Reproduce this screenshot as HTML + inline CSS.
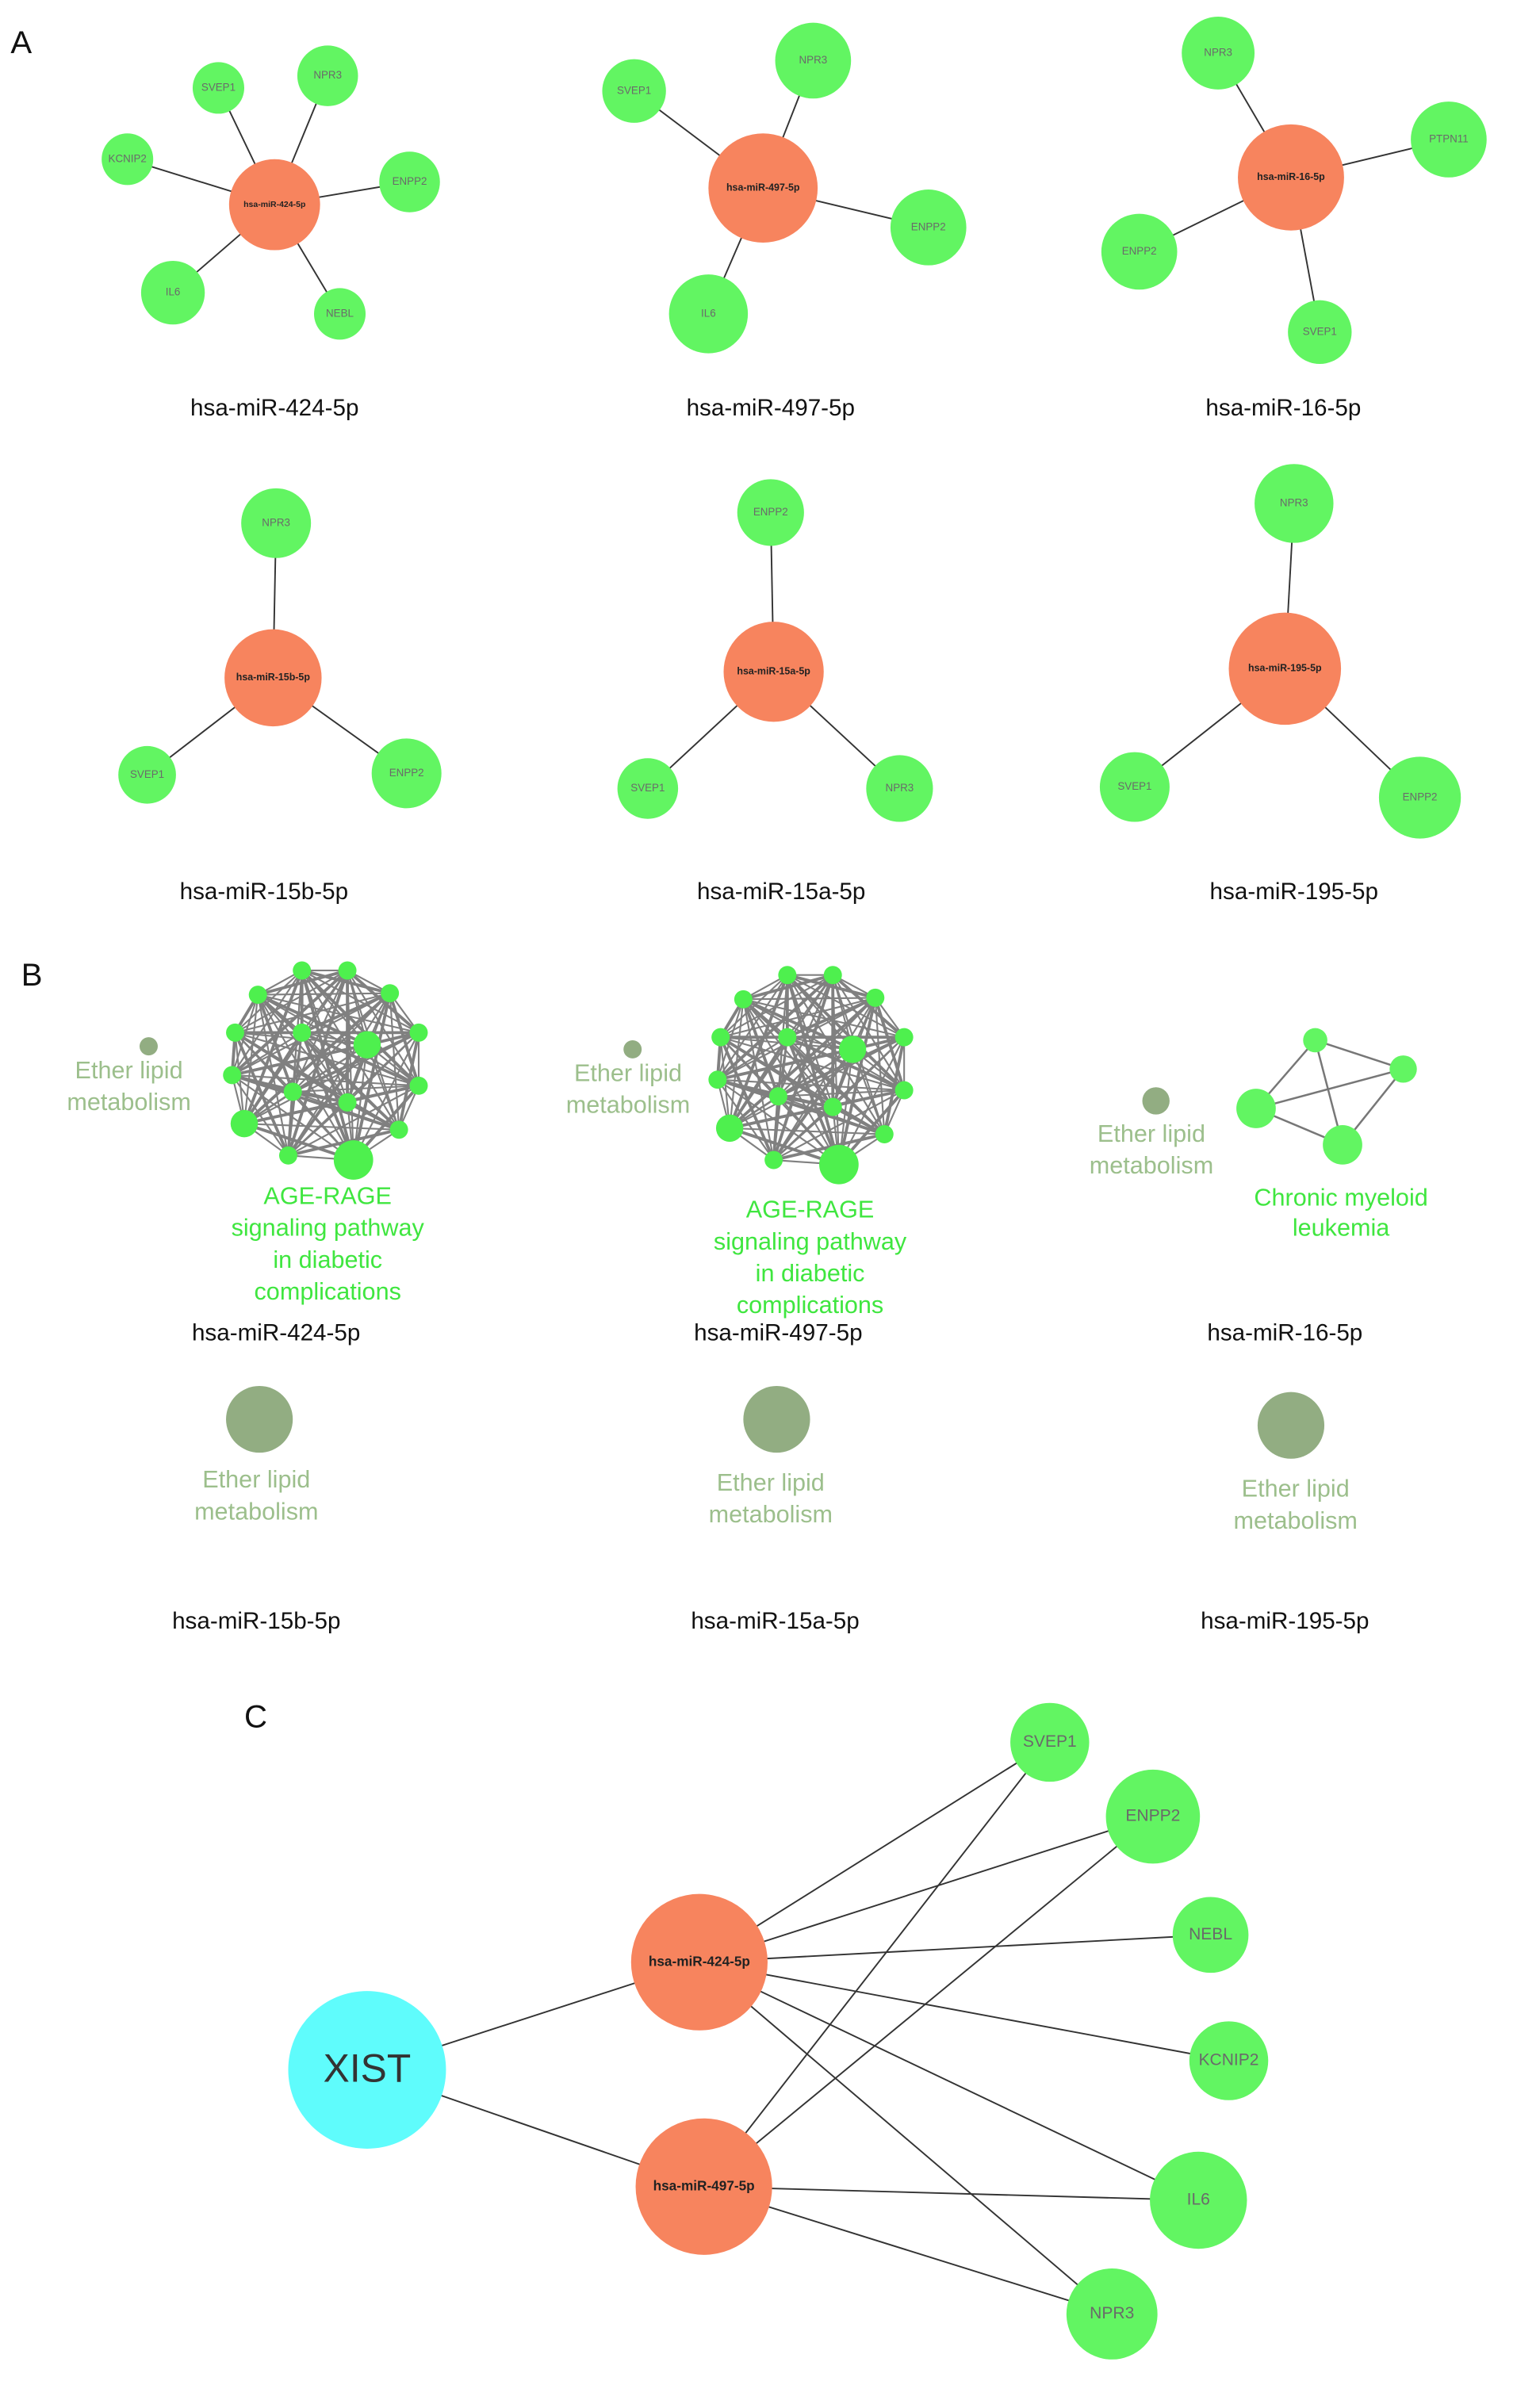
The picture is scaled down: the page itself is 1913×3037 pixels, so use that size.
<!DOCTYPE html>
<html><head><meta charset="utf-8"><style>
html,body{margin:0;padding:0;background:#fff;}
svg{display:block;}
text{font-family:"Liberation Sans",sans-serif;}
.g{fill:#62f562;}
.o{fill:#f7845e;}
.e{stroke:#333;stroke-width:1;}
.gt{fill:#6a6a6a;font-size:7px;text-anchor:middle;dominant-baseline:middle;}
.ot{fill:#222;font-size:6.5px;text-anchor:middle;dominant-baseline:middle;font-weight:bold;}
.lab{fill:#111;font-size:15.5px;text-anchor:middle;}
.eth{fill:#9cbf8c;font-size:16px;text-anchor:middle;}
.age{fill:#3fe63f;font-size:16px;text-anchor:middle;}
.ol{fill:#92ad82;}
.P{font-size:21px;fill:#111;}
</style></head><body>
<svg id="s" width="1913" height="3037" viewBox="0 0 1000 1588" preserveAspectRatio="none" xmlns="http://www.w3.org/2000/svg">
<text class="P" x="7" y="35">A</text>
<!-- Graph 1 -->
<g class="e">
<line x1="181" y1="135" x2="144" y2="58"/><line x1="181" y1="135" x2="216" y2="50"/>
<line x1="181" y1="135" x2="84" y2="105"/><line x1="181" y1="135" x2="270" y2="120"/>
<line x1="181" y1="135" x2="114" y2="193"/><line x1="181" y1="135" x2="224" y2="207"/>
</g>
<circle class="g" cx="144" cy="58" r="17"/><text class="gt" x="144" y="58">SVEP1</text>
<circle class="g" cx="216" cy="50" r="20"/><text class="gt" x="216" y="50">NPR3</text>
<circle class="g" cx="84" cy="105" r="17"/><text class="gt" x="84" y="105">KCNIP2</text>
<circle class="g" cx="270" cy="120" r="20"/><text class="gt" x="270" y="120">ENPP2</text>
<circle class="g" cx="114" cy="193" r="21"/><text class="gt" x="114" y="193">IL6</text>
<circle class="g" cx="224" cy="207" r="17"/><text class="gt" x="224" y="207">NEBL</text>
<circle class="o" cx="181" cy="135" r="30"/><text class="ot" x="181" y="135" style="font-size:5.5px">hsa-miR-424-5p</text>
<text class="lab" x="181" y="274">hsa-miR-424-5p</text>
<!-- Graph 2 -->
<g class="e">
<line x1="503" y1="124" x2="418" y2="60"/><line x1="503" y1="124" x2="536" y2="40"/>
<line x1="503" y1="124" x2="612" y2="150"/><line x1="503" y1="124" x2="467" y2="207"/>
</g>
<circle class="g" cx="418" cy="60" r="21"/><text class="gt" x="418" y="60">SVEP1</text>
<circle class="g" cx="536" cy="40" r="25"/><text class="gt" x="536" y="40">NPR3</text>
<circle class="g" cx="612" cy="150" r="25"/><text class="gt" x="612" y="150">ENPP2</text>
<circle class="g" cx="467" cy="207" r="26"/><text class="gt" x="467" y="207">IL6</text>
<circle class="o" cx="503" cy="124" r="36"/><text class="ot" x="503" y="124">hsa-miR-497-5p</text>
<text class="lab" x="508" y="274">hsa-miR-497-5p</text>
<!-- Graph 3 -->
<g class="e">
<line x1="851" y1="117" x2="803" y2="35"/><line x1="851" y1="117" x2="955" y2="92"/>
<line x1="851" y1="117" x2="751" y2="166"/><line x1="851" y1="117" x2="870" y2="219"/>
</g>
<circle class="g" cx="803" cy="35" r="24"/><text class="gt" x="803" y="35">NPR3</text>
<circle class="g" cx="955" cy="92" r="25"/><text class="gt" x="955" y="92">PTPN11</text>
<circle class="g" cx="751" cy="166" r="25"/><text class="gt" x="751" y="166">ENPP2</text>
<circle class="g" cx="870" cy="219" r="21"/><text class="gt" x="870" y="219">SVEP1</text>
<circle class="o" cx="851" cy="117" r="35"/><text class="ot" x="851" y="117">hsa-miR-16-5p</text>
<text class="lab" x="846" y="274">hsa-miR-16-5p</text>
<!-- Graph 4 -->
<g class="e">
<line x1="180" y1="447" x2="182" y2="345"/><line x1="180" y1="447" x2="97" y2="511"/><line x1="180" y1="447" x2="268" y2="510"/>
</g>
<circle class="g" cx="182" cy="345" r="23"/><text class="gt" x="182" y="345">NPR3</text>
<circle class="g" cx="97" cy="511" r="19"/><text class="gt" x="97" y="511">SVEP1</text>
<circle class="g" cx="268" cy="510" r="23"/><text class="gt" x="268" y="510">ENPP2</text>
<circle class="o" cx="180" cy="447" r="32"/><text class="ot" x="180" y="447">hsa-miR-15b-5p</text>
<text class="lab" x="174" y="593">hsa-miR-15b-5p</text>
<!-- Graph 5 -->
<g class="e">
<line x1="510" y1="443" x2="508" y2="338"/><line x1="510" y1="443" x2="427" y2="520"/><line x1="510" y1="443" x2="593" y2="520"/>
</g>
<circle class="g" cx="508" cy="338" r="22"/><text class="gt" x="508" y="338">ENPP2</text>
<circle class="g" cx="427" cy="520" r="20"/><text class="gt" x="427" y="520">SVEP1</text>
<circle class="g" cx="593" cy="520" r="22"/><text class="gt" x="593" y="520">NPR3</text>
<circle class="o" cx="510" cy="443" r="33"/><text class="ot" x="510" y="443">hsa-miR-15a-5p</text>
<text class="lab" x="515" y="593">hsa-miR-15a-5p</text>
<!-- Graph 6 -->
<g class="e">
<line x1="847" y1="441" x2="853" y2="332"/><line x1="847" y1="441" x2="748" y2="519"/><line x1="847" y1="441" x2="936" y2="526"/>
</g>
<circle class="g" cx="853" cy="332" r="26"/><text class="gt" x="853" y="332">NPR3</text>
<circle class="g" cx="748" cy="519" r="23"/><text class="gt" x="748" y="519">SVEP1</text>
<circle class="g" cx="936" cy="526" r="27"/><text class="gt" x="936" y="526">ENPP2</text>
<circle class="o" cx="847" cy="441" r="37"/><text class="ot" x="847" y="441">hsa-miR-195-5p</text>
<text class="lab" x="853" y="593">hsa-miR-195-5p</text>

<!-- Panel B -->
<text class="P" x="14" y="650">B</text>
<g id="c1"></g><g id="c2"></g>
<circle class="ol" cx="98" cy="690" r="6"/>
<text class="eth" x="85" y="711">Ether lipid</text><text class="eth" x="85" y="732">metabolism</text>
<text class="age" x="216" y="794">AGE-RAGE</text><text class="age" x="216" y="815">signaling pathway</text>
<text class="age" x="216" y="836">in diabetic</text><text class="age" x="216" y="857">complications</text>
<circle class="ol" cx="417" cy="692" r="6"/>
<text class="eth" x="414" y="713">Ether lipid</text><text class="eth" x="414" y="734">metabolism</text>
<text class="age" x="534" y="803">AGE-RAGE</text><text class="age" x="534" y="824">signaling pathway</text>
<text class="age" x="534" y="845">in diabetic</text><text class="age" x="534" y="866">complications</text>
<g stroke="#777" stroke-width="1.3">
<line x1="867" y1="686" x2="925" y2="705"/><line x1="867" y1="686" x2="828" y2="731"/>
<line x1="867" y1="686" x2="885" y2="755"/><line x1="925" y1="705" x2="828" y2="731"/>
<line x1="925" y1="705" x2="885" y2="755"/><line x1="828" y1="731" x2="885" y2="755"/>
</g>
<circle class="g" cx="867" cy="686" r="8"/><circle class="g" cx="925" cy="705" r="9"/>
<circle class="g" cx="828" cy="731" r="13"/><circle class="g" cx="885" cy="755" r="13"/>
<circle class="ol" cx="762" cy="726" r="9"/>
<text class="eth" x="759" y="753">Ether lipid</text><text class="eth" x="759" y="774">metabolism</text>
<text class="age" x="884" y="795">Chronic myeloid</text><text class="age" x="884" y="815">leukemia</text>
<text class="lab" x="182" y="884">hsa-miR-424-5p</text>
<text class="lab" x="513" y="884">hsa-miR-497-5p</text>
<text class="lab" x="847" y="884">hsa-miR-16-5p</text>
<circle class="ol" cx="171" cy="936" r="22"/>
<text class="eth" x="169" y="981">Ether lipid</text><text class="eth" x="169" y="1002">metabolism</text>
<circle class="ol" cx="512" cy="936" r="22"/>
<text class="eth" x="508" y="983">Ether lipid</text><text class="eth" x="508" y="1004">metabolism</text>
<circle class="ol" cx="851" cy="940" r="22"/>
<text class="eth" x="854" y="987">Ether lipid</text><text class="eth" x="854" y="1008">metabolism</text>
<text class="lab" x="169" y="1074">hsa-miR-15b-5p</text>
<text class="lab" x="511" y="1074">hsa-miR-15a-5p</text>
<text class="lab" x="847" y="1074">hsa-miR-195-5p</text>

<!-- Panel C -->
<text class="P" x="161" y="1139">C</text>
<g class="e" stroke-width="1.2">
<line x1="242" y1="1365" x2="461" y2="1294"/><line x1="242" y1="1365" x2="464" y2="1442"/>
<line x1="461" y1="1294" x2="692" y2="1149"/><line x1="461" y1="1294" x2="760" y2="1198"/>
<line x1="461" y1="1294" x2="798" y2="1276"/><line x1="461" y1="1294" x2="810" y2="1359"/>
<line x1="461" y1="1294" x2="790" y2="1451"/><line x1="461" y1="1294" x2="733" y2="1526"/>
<line x1="464" y1="1442" x2="692" y2="1149"/><line x1="464" y1="1442" x2="760" y2="1198"/>
<line x1="464" y1="1442" x2="790" y2="1451"/><line x1="464" y1="1442" x2="733" y2="1526"/>
</g>
<circle cx="242" cy="1365" r="52" fill="#5ffcfc"/>
<text x="242" y="1366" style="font-size:26px;fill:#333;text-anchor:middle;dominant-baseline:middle">XIST</text>
<circle class="o" cx="461" cy="1294" r="45"/><text class="ot" x="461" y="1294" style="font-size:9px">hsa-miR-424-5p</text>
<circle class="o" cx="464" cy="1442" r="45"/><text class="ot" x="464" y="1442" style="font-size:9px">hsa-miR-497-5p</text>
<circle class="g" cx="692" cy="1149" r="26"/><text class="gt" x="692" y="1149" style="font-size:11px">SVEP1</text>
<circle class="g" cx="760" cy="1198" r="31"/><text class="gt" x="760" y="1198" style="font-size:11px">ENPP2</text>
<circle class="g" cx="798" cy="1276" r="25"/><text class="gt" x="798" y="1276" style="font-size:11px">NEBL</text>
<circle class="g" cx="810" cy="1359" r="26"/><text class="gt" x="810" y="1359" style="font-size:11px">KCNIP2</text>
<circle class="g" cx="790" cy="1451" r="32"/><text class="gt" x="790" y="1451" style="font-size:11px">IL6</text>
<circle class="g" cx="733" cy="1526" r="30"/><text class="gt" x="733" y="1526" style="font-size:11px">NPR3</text>
</svg>
<script>
(function(){
var NS="http://www.w3.org/2000/svg";
var base=[[199,640,6],[229,640,6],[170,656,6],[257,655,6],[155,681,6],[276,681,6],[199,681,6],[242,689,9],[153,709,6],[276,716,6],[193,720,6],[229,727,6],[161,741,9],[263,745,6],[190,762,6],[233,765,13]];
function draw(id,dx,dy){
 var g=document.getElementById(id);
 for(var i=0;i<base.length;i++)for(var j=i+1;j<base.length;j++){
  var l=document.createElementNS(NS,"line");
  l.setAttribute("x1",base[i][0]+dx);l.setAttribute("y1",base[i][1]+dy);
  l.setAttribute("x2",base[j][0]+dx);l.setAttribute("y2",base[j][1]+dy);
  l.setAttribute("stroke","#808080");l.setAttribute("stroke-width",((i+j)%3==0)?"2":"1.1");
  g.appendChild(l);}
 for(var k=0;k<base.length;k++){
  var c=document.createElementNS(NS,"circle");
  c.setAttribute("cx",base[k][0]+dx);c.setAttribute("cy",base[k][1]+dy);c.setAttribute("r",base[k][2]);
  c.setAttribute("fill","#4ef04e");g.appendChild(c);}
}
draw("c1",0,0);draw("c2",320,3);
})();
</script>
</body></html>
